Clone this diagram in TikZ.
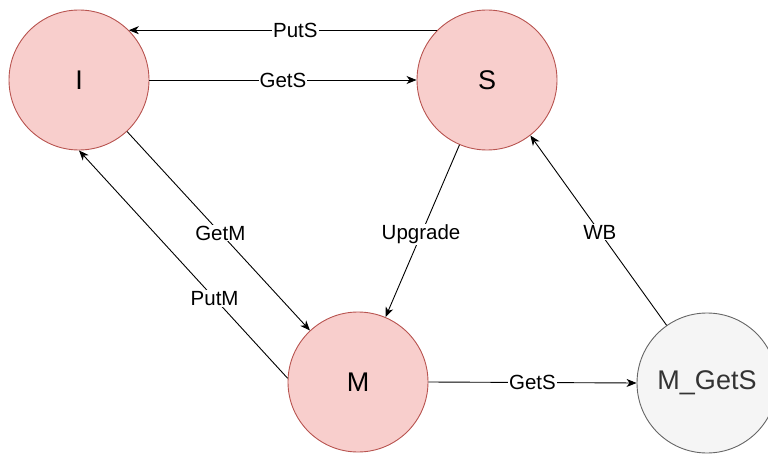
\documentclass[tikz,border=0pt]{standalone}
\usepackage{fontspec}
\setmainfont{Liberation Sans}
\usetikzlibrary{arrows.meta}
\definecolor{redfill}{HTML}{F8CECC}
\definecolor{redline}{HTML}{B85450}
\definecolor{greyfill}{HTML}{F5F5F5}
\definecolor{greyline}{HTML}{666666}
\definecolor{greytext}{HTML}{333333}
\begin{document}
\begin{tikzpicture}[x=1pt,y=-1pt,
  state/.style={circle, minimum size=140pt, inner sep=0pt, line width=0.9pt,
    font=\fontsize{27}{32}\selectfont},
  redstate/.style={state, draw=redline, fill=redfill},
  greystate/.style={state, draw=greyline, fill=greyfill, text=greytext},
  trans/.style={draw=black, line width=0.9pt, -{Stealth[length=10pt,width=8pt,inset=3pt]}},
  lbl/.style={fill=white, inner sep=1pt, font=\fontsize{20.5}{24}\selectfont}]
\useasboundingbox (0,0) rectangle (768,454);
\clip (0,0) rectangle (768,454);

\node[redstate]  (I)  at (79,80)   {I};
\node[redstate]  (S)  at (487,80)  {S};
\node[redstate]  (M)  at (358,382) {M};
\node[greystate] (MG) at (707,383) {M\_GetS};

% transitions between the states
\draw[trans] (S.135) -- node[lbl, pos=0.46] {PutS} (I.45);
\draw[trans] (I.east) -- node[lbl, pos=0.5] {GetS} (S.west);
\draw[trans] (I.-47) -- node[lbl, pos=0.51] {GetM} (M.133);
\draw[trans] (M.177) -- node[lbl, pos=0.35] {PutM} (I.south);
\draw[trans] (S.-113) -- node[lbl, pos=0.52] {Upgrade} (M.67);
\draw[trans] (MG.125) -- node[lbl, pos=0.49] {WB} (S.-52);
\draw[trans] (M.east) -- node[lbl, pos=0.5] {GetS} (MG.west);
\end{tikzpicture}
\end{document}
